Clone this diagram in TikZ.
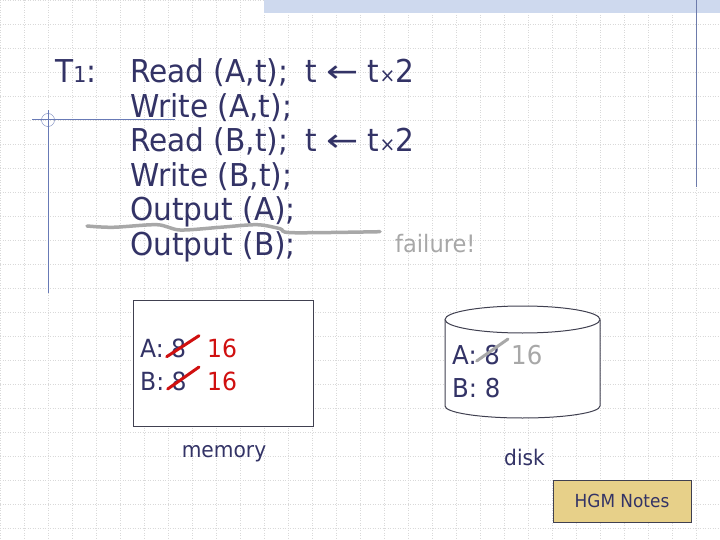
\documentclass[tikz,border=0pt]{standalone}
\usepackage{fontspec}
\setmainfont{DejaVu Sans}[FakeStretch=0.94]
\definecolor{ink}{RGB}{51,51,102}
\definecolor{rule}{RGB}{104,122,182}
\definecolor{band}{RGB}{206,217,238}
\definecolor{khaki}{RGB}{231,208,137}
\definecolor{edge}{RGB}{64,64,80}
\definecolor{strike}{RGB}{208,16,16}
\definecolor{fail}{RGB}{168,168,168}
\begin{document}
\begin{tikzpicture}[x=1pt,y=-1pt,
  txt/.style={anchor=base west,inner sep=0pt,text=ink,font=\fontsize{31.5}{35}\selectfont},
  val/.style={anchor=base west,inner sep=0pt,text=ink,font=\fontsize{25}{30}\selectfont},
  lbl/.style={anchor=base,inner sep=0pt,text=ink,font=\fontsize{21.5}{26}\selectfont},
  gridline/.style={draw=gray!30,line width=0.6pt,dash pattern=on 1pt off 1.5pt}]
\useasboundingbox (0,0) rectangle (720,540);
% background grid and template
\foreach \gx in {0,24,...,720} \draw[gridline] (\gx,0) -- (\gx,540);
\foreach \gy in {0,24,...,540} \draw[gridline] (0,\gy) -- (720,\gy);
\fill[band] (264,0) rectangle (720,13);
\draw[rule!80!gray,line width=1pt] (696.7,0) -- (696.7,187);
\draw[rule,line width=1pt] (48,110) -- (48,293);
\draw[rule,line width=1pt] (32,119.5) -- (175,119.5);
\draw[rule] (48,120) circle [radius=6.5];
% transaction
\node[txt] (t1) at (55,83) {T{\fontsize{22}{22}\selectfont 1}:};
\node[txt] (ra) at (130,83) {Read (A,t);};
\node[txt] (wa) at (130,117.5) {Write (A,t);};
\node[txt] (rb) at (130,152) {Read (B,t);};
\node[txt] (wb) at (130,186.5) {Write (B,t);};
\node[txt] (oa) at (130,221) {Output (A);};
\node[txt] (ob) at (130,255.5) {Output (B);};
\node[txt] (opa) at (305,83) {t \scalebox{1.3}[1]{←} t{\fontsize{20}{20}\selectfont ×}2};
\node[txt] (opb) at (305,152) {t \scalebox{1.3}[1]{←} t{\fontsize{20}{20}\selectfont ×}2};
% failure
\draw[fail,line width=3.5pt,line cap=round] plot[smooth] coordinates {(87,226) (113,227.3) (157,224.7) (180,230) (220,227.3) (257,224.7) (280,228.7) (292,232.7) (380,231.7)};
\node[anchor=base west,inner sep=0pt,text=fail,font=\fontsize{24}{28}\selectfont] (fl) at (395,252.5) {failure!};
% memory
\node[draw=edge,fill=white,line width=1pt,minimum width=180,minimum height=126,inner sep=0pt] (mem) at (223,363) {};
\node[val] (ma) at (140,357) {A: 8};
\node[val,text=strike] (ma2) at (207,357) {16};
\node[val] (mb) at (140,390) {B: 8};
\node[val,text=strike] (mb2) at (207,390) {16};
\draw[strike,line width=3pt,line cap=round] (166.7,356.7) -- (199,335.7);
\draw[strike,line width=3pt,line cap=round] (167.7,389) -- (199,367);
\node[lbl] (ml) at (224,457) {memory};
% disk
\fill[white] (445,320) -- (445,406) arc[start angle=180,end angle=0,x radius=77.5,y radius=12] -- (600,320) -- cycle;
\draw[edge,line width=1pt] (445,320) -- (445,406) arc[start angle=180,end angle=0,x radius=77.5,y radius=12] -- (600,320);
\draw[edge,line width=1pt,fill=white] (522.5,319.5) ellipse [x radius=77.5,y radius=13.5];
\node[val,font=\fontsize{26}{30}\selectfont] (da) at (452,364) {A: 8};
\node[val,font=\fontsize{26}{30}\selectfont,text=fail] (da2) at (511,364) {16};
\node[val,font=\fontsize{26}{30}\selectfont] (db) at (452,397) {B: 8};
\draw[fail,line width=3pt,line cap=round] (476.7,361) -- (508,339);
\node[lbl] (dl) at (524.5,465) {disk};
% notes
\node[draw=edge,fill=khaki,line width=1pt,minimum width=138,minimum height=42,inner sep=0pt,text=ink,font=\fontsize{18}{20}\selectfont] (hgm) at (622,501) {HGM Notes};
\end{tikzpicture}
\end{document}
